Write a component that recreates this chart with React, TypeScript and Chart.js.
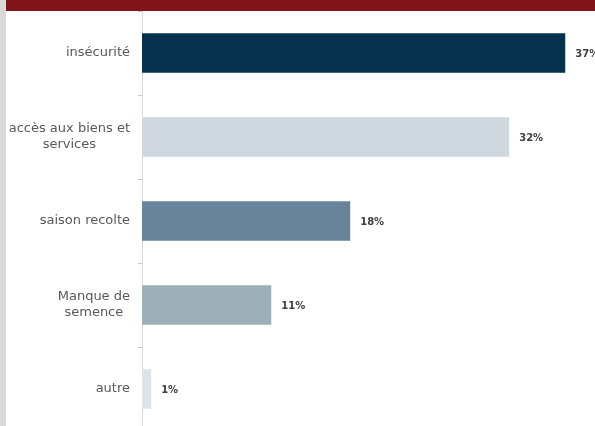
import React, { useEffect, useRef } from "react";
import { Chart, registerables } from "chart.js";

Chart.register(...registerables);

const categories: string[][] = [
  ["insécurité"],
  ["accès aux biens et", "services"],
  ["saison recolte"],
  ["Manque de", "semence"],
  ["autre"],
];
const values: number[] = [37.0, 32.1, 18.2, 11.3, 0.8];
const valueLabels: string[] = ["37%", "32%", "18%", "11%", "1%"];
const barColors: string[] = ["#05314C", "#CFD8DE", "#67849A", "#9EAFB9", "#DEE4E8"];
const xMax = 39.6;

const labelPlugin = {
  id: "customLabels",
  afterDraw(chart: any) {
    const ctx = chart.ctx;
    const yScale = chart.scales.y;
    const meta = chart.getDatasetMeta(0);
    ctx.save();
    // category labels: block right-aligned, lines centered
    ctx.font = "13px 'DejaVu Sans'";
    ctx.fillStyle = "#595959";
    ctx.textBaseline = "middle";
    ctx.textAlign = "center";
    const rightEdge = chart.chartArea.left - 12;
    const lineH = 16;
    categories.forEach((lines, i) => {
      const yc = yScale.getPixelForValue(i);
      const w = Math.max(...lines.map((l) => ctx.measureText(l).width));
      const cx = rightEdge - w / 2;
      const y0 = yc - ((lines.length - 1) * lineH) / 2;
      lines.forEach((l, j) => ctx.fillText(l, cx, y0 + j * lineH));
    });
    // value labels
    ctx.font = "bold 10px 'DejaVu Sans'";
    ctx.fillStyle = "#404040";
    ctx.textAlign = "left";
    meta.data.forEach((el: any, i: number) => {
      ctx.fillText(valueLabels[i], el.x + 10, el.y + 1);
    });
    ctx.restore();
  },
};

export default function App() {
  const ref = useRef<HTMLCanvasElement>(null);
  useEffect(() => {
    document.body.style.margin = "0";
    const chart = new Chart(ref.current as HTMLCanvasElement, {
      type: "bar",
      data: {
        labels: categories.map((c) => c.join(" ")),
        datasets: [
          {
            data: values,
            backgroundColor: barColors,
            borderWidth: 0,
            barPercentage: 0.47,
            categoryPercentage: 1,
          },
        ],
      },
      options: {
        indexAxis: "y",
        animation: false,
        responsive: false,
        maintainAspectRatio: false,
        layout: { padding: { left: 138, top: 11, bottom: 9, right: 0 } },
        plugins: { legend: { display: false }, tooltip: { enabled: false } },
        scales: {
          x: { display: false, min: 0, max: xMax },
          y: {
            offset: true,
            ticks: { display: false },
            grid: {
              offset: true,
              drawOnChartArea: false,
              drawTicks: true,
              tickLength: 4,
              color: "#C8C8C8",
            },
            border: { display: true, color: "#D9D9D9", width: 1 },
          },
        },
      },
      plugins: [labelPlugin],
    });
    return () => chart.destroy();
  }, []);
  return (
    <div style={{ position: "relative", width: 595, height: 426, overflow: "hidden", background: "#fff" }}>
      <canvas ref={ref} width={595} height={440} style={{ position: "absolute", left: 0, top: 0 }} />
      <div style={{ position: "absolute", left: 0, top: 0, width: 6, height: 426, background: "#D9D9D9" }} />
      <div style={{ position: "absolute", left: 6, top: 0, width: 589, height: 11, background: "#7F1518" }} />
    </div>
  );
}
